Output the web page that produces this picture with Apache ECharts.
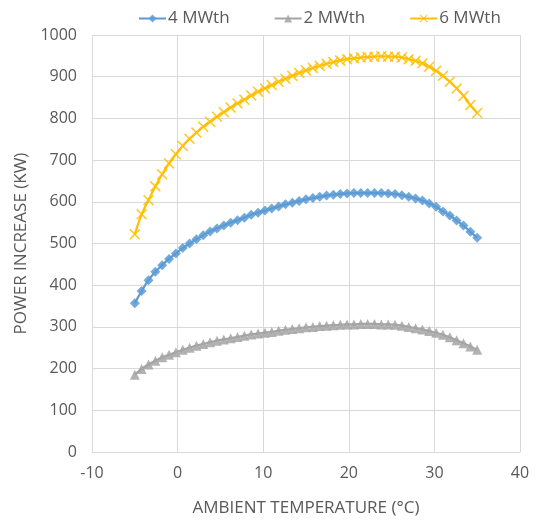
<!DOCTYPE html>
<html>
<head>
<meta charset="utf-8">
<script src="https://cdn.jsdelivr.net/npm/echarts@6/dist/echarts.min.js"></script>
<style>
  html, body { margin: 0; padding: 0; background: #fff; }
  #main { width: 538px; height: 524px; }
</style>
</head>
<body>
<div id="main"></div>
<script>
// ambient temperature (°C) of each point
var temps = [-5, -4.2, -3.4, -2.6, -1.8, -1, -0.2, 0.6, 1.4, 2.2, 3, 3.8, 4.6, 5.4, 6.2, 7, 7.8, 8.6, 9.4, 10.2,
  11, 11.8, 12.6, 13.4, 14.2, 15, 15.8, 16.6, 17.4, 18.2, 19, 19.8, 20.6, 21.4, 22.2, 23, 23.8, 24.6, 25.4, 26.2,
  27, 27.8, 28.6, 29.4, 30.2, 31, 31.8, 32.6, 33.4, 34.2, 35]

var mw4 = [357, 386, 412, 432, 448, 463, 476, 489, 500, 510, 520, 529, 536, 543, 550, 556, 562, 569, 574, 579,
  584, 589, 594, 598, 602, 606, 609, 612, 615, 617, 619, 620, 621, 621, 621, 621, 621, 620, 619, 616,
  612, 608, 603, 596, 588, 577, 567, 555, 543, 528, 514]

var mw2 = [185, 199, 210, 219, 227, 233, 239, 245, 250, 255, 259, 263, 267, 270, 273, 276, 279, 282, 284, 286,
  288, 291, 293, 295, 297, 299, 300, 302, 303, 304, 305, 306, 306, 307, 307, 307, 306, 306, 305, 303,
  300, 297, 294, 290, 286, 281, 275, 268, 261, 253, 245]

var mw6 = [522, 570, 604, 637, 666, 692, 714, 734, 751, 766, 780, 792, 804, 815, 826, 836, 845, 855, 864, 872,
  880, 888, 895, 902, 909, 915, 921, 926, 931, 935, 939, 942, 944, 946, 947, 948, 949, 948, 948, 946,
  942, 938, 932, 924, 914, 902, 888, 872, 854, 832, 813]

var seriesNames = ['4 MWth', '2 MWth', '6 MWth']
var seriesColors = ['#5B9BD5', '#A5A5A5', '#FFC000']

function pairs(ys) {
  return temps.map(function (t, i) { return [t, ys[i]] })
}

var xMark = 'path://M0,1L1,0L5,4L9,0L10,1L6,5L10,9L9,10L5,6L1,10L0,9L4,5Z'
var symbols = ['diamond', 'triangle', xMark]
var symbolSizes = [10, 10, 11]
var allData = [mw4, mw2, mw6]

var myChart = echarts.init(document.getElementById('main'))
var labelFont = { color: '#595959', fontSize: 16, fontFamily: 'Open Sans' }

var option = {
  animation: false,
  textStyle: { fontFamily: 'Open Sans' },
  legend: {
    top: 5,
    left: 133,
    itemGap: 44,
    itemWidth: 27,
    itemHeight: 10,
    textStyle: { color: '#595959', fontSize: 17, fontFamily: 'Open Sans', padding: [0, 0, 0, -3] },
    data: seriesNames
  },
  grid: { left: 92, right: 18, top: 35, bottom: 72, containLabel: false },
  xAxis: {
    type: 'value',
    min: -10,
    max: 40,
    interval: 10,
    name: 'AMBIENT TEMPERATURE (°C)',
    nameLocation: 'middle',
    nameGap: 48,
    nameTextStyle: { color: '#595959', fontSize: 17, fontFamily: 'Open Sans' },
    axisLine: { lineStyle: { color: '#D9D9D9' } },
    axisTick: { show: false },
    axisLabel: Object.assign({ margin: 13 }, labelFont),
    splitLine: { show: true, lineStyle: { color: '#D9D9D9' } }
  },
  yAxis: {
    type: 'value',
    min: 0,
    max: 1000,
    interval: 100,
    name: 'POWER INCREASE (KW)',
    nameLocation: 'middle',
    nameGap: 61,
    nameTextStyle: { color: '#595959', fontSize: 17, fontFamily: 'Open Sans' },
    axisLine: { show: true, lineStyle: { color: '#D9D9D9' } },
    axisTick: { show: false },
    axisLabel: Object.assign({ margin: 15, formatter: function (v) { return String(v) } }, labelFont),
    splitLine: { show: true, lineStyle: { color: '#D9D9D9' } }
  },
  series: seriesNames.map(function (name, k) {
    return {
      name: name,
      type: 'line',
      smooth: true,
      data: pairs(allData[k]),
      symbol: symbols[k],
      symbolSize: symbolSizes[k],
      showAllSymbol: true,
      lineStyle: { color: seriesColors[k], width: 2.25 },
      itemStyle: { color: seriesColors[k], opacity: 0.85 }
    }
  })
}

option && myChart.setOption(option)
</script>
</body>
</html>
